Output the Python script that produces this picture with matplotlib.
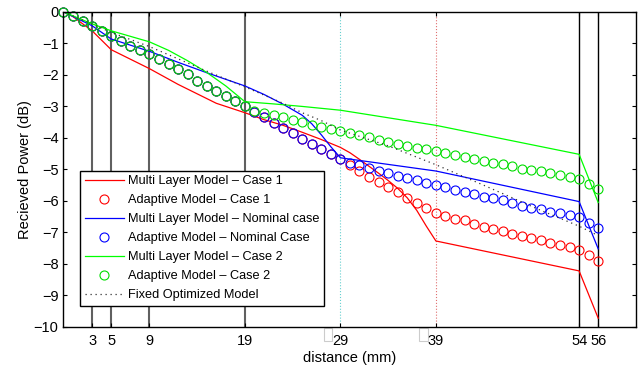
import numpy as np
import matplotlib
matplotlib.use('Agg')
from matplotlib import pyplot as plt
from matplotlib.patches import Rectangle
import matplotlib.transforms as mtransforms

plt.rcParams['font.family'] = ['Liberation Sans', 'DejaVu Sans']

# layer boundaries / tick labels (mm)
layer_ticks = [3, 5, 9, 19, 29, 39, 54, 56]

# adaptive model samples, one per mm
x_adapt = np.arange(0, 57)
common = [0, -0.13, -0.28, -0.44, -0.6, -0.78, -0.93, -1.08, -1.21, -1.35,
          -1.5, -1.66, -1.82, -1.98, -2.18, -2.36, -2.5, -2.66, -2.83, -2.98]
adapt_case2_tail = [-3.14, -3.2, -3.26, -3.32, -3.42, -3.5, -3.6, -3.66, -3.72, -3.79,
                    -3.85, -3.92, -3.98, -4.05, -4.12, -4.18, -4.25, -4.31, -4.36, -4.43,
                    -4.48, -4.53, -4.6, -4.68, -4.74, -4.79, -4.83, -4.89, -4.97, -5.02,
                    -5.06, -5.11, -5.17, -5.24, -5.31, -5.46, -5.63]
adapt_nom_tail = [-3.18, -3.35, -3.53, -3.68, -3.84, -4.02, -4.19, -4.36, -4.5, -4.67,
                  -4.8, -4.87, -4.95, -5.04, -5.12, -5.2, -5.27, -5.35, -5.43, -5.49,
                  -5.57, -5.65, -5.71, -5.79, -5.86, -5.92, -5.98, -6.06, -6.16, -6.21,
                  -6.26, -6.34, -6.39, -6.45, -6.51, -6.7, -6.86]
adapt_case1_tail = [-3.18, -3.35, -3.53, -3.68, -3.84, -4.02, -4.19, -4.36, -4.5, -4.67,
                    -4.86, -5.04, -5.23, -5.39, -5.56, -5.72, -5.9, -6.05, -6.23, -6.37,
                    -6.49, -6.57, -6.62, -6.73, -6.83, -6.88, -6.96, -7.04, -7.1, -7.17,
                    -7.25, -7.33, -7.39, -7.46, -7.55, -7.71, -7.89]
adapt_case1 = common + adapt_case1_tail
adapt_nom = common + adapt_nom_tail
adapt_case2 = common + adapt_case2_tail

# multi layer model curves
ml1_x = [0, 1, 3, 5, 7, 9, 12, 14, 16, 19, 21, 23, 25, 27, 29, 30, 31, 32, 33, 34,
         35, 36, 37, 38, 39, 54, 56]
ml1_y = [0, -0.15, -0.6, -1.2, -1.5, -1.8, -2.3, -2.6, -2.9, -3.2, -3.42, -3.6, -3.82,
         -4.05, -4.3, -4.47, -4.68, -4.9, -5.12, -5.35, -5.6, -5.9, -6.3, -6.8, -7.27,
         -8.22, -9.72]
mln_x = [0, 3, 5, 9, 12, 15, 19, 21, 23, 25, 26, 27, 28, 29, 39, 54, 56]
mln_y = [0, -0.44, -0.86, -1.25, -1.6, -1.93, -2.35, -2.62, -2.93, -3.28, -3.55,
         -3.9, -4.28, -4.63, -5.05, -6.02, -7.52]
ml2_x = [0, 3, 5, 9, 11, 13, 15, 17, 18, 19, 22, 25, 29, 39, 54, 56]
ml2_y = [0, -0.38, -0.6, -0.95, -1.22, -1.55, -1.92, -2.35, -2.6, -2.85, -2.92,
         -3.0, -3.12, -3.6, -4.52, -6.05]

# fixed optimized model
fix_x = [0, 5, 9, 15, 19, 23, 25, 27, 29, 34, 39, 44, 50, 54, 56]
fix_y = [0, -0.65, -1.1, -1.88, -2.38, -2.9, -3.2, -3.45, -3.75, -4.25, -4.85,
         -5.5, -6.3, -6.8, -7.1]

fig = plt.figure(figsize=(6.38, 3.72), dpi=100)
ax = fig.add_axes([0.0995, 0.121, 0.898, 0.847])

# layer boundary lines
for t in [3, 5, 9, 19]:
    ax.axvline(t, color='#606060', lw=1.5, zorder=1)
for t in [54, 56]:
    ax.axvline(t, color='black', lw=1.0, zorder=1)
ax.axvline(29, color='#66d0d0', lw=0.8, ls=':', zorder=1)
ax.axvline(39, color='#e07070', lw=0.8, ls=':', zorder=1)

ms = 6.5
mw = 0.8
ax.plot(ml1_x, ml1_y, color='#ff0000', lw=0.9, label='Multi Layer Model \u2013 Case 1')
ax.plot(x_adapt, adapt_case1, 'o', mfc='none', mec='#ff0000', ms=ms, mew=mw,
        clip_on=False, label='Adaptive Model \u2013 Case 1')
ax.plot(mln_x, mln_y, color='#0000ff', lw=0.9, label='Multi Layer Model \u2013 Nominal case')
ax.plot(x_adapt, adapt_nom, 'o', mfc='none', mec='#0000ff', ms=ms, mew=mw,
        clip_on=False, label='Adaptive Model \u2013 Nominal Case')
ax.plot(ml2_x, ml2_y, color='#00ff00', lw=0.9, label='Multi Layer Model \u2013 Case 2')
ax.plot(x_adapt, adapt_case2, 'o', mfc='none', mec='#00dd00', ms=ms, mew=mw,
        clip_on=False, label='Adaptive Model \u2013 Case 2')
ax.plot(fix_x, fix_y, color='#333333', lw=0.9, ls=(0, (1, 3)), label='Fixed Optimized Model')

ax.set_xlim(0, 60)
ax.set_ylim(-10, 0)
ax.set_xticks(layer_ticks)
ax.set_yticks(np.arange(-10, 1, 1))
ax.tick_params(direction='in', length=3, top=True, right=True, labelsize=10.5, width=0.8)
ax.tick_params(axis='x', pad=5)
for s in ax.spines.values():
    s.set_linewidth(1.0)

# small gray boxes beside the 29 and 39 labels
trans = mtransforms.blended_transform_factory(ax.transData, ax.transAxes)
for t in [29, 39]:
    ax.add_patch(Rectangle((t - 1.75, -0.044), 0.9, 0.04, transform=trans, fill=False,
                           ec='#cccccc', lw=0.8, clip_on=False))

ax.set_xlabel('distance (mm)', fontsize=10.5, labelpad=2)
ax.set_ylabel('Recieved Power (dB)', fontsize=10.5, labelpad=1)

leg = ax.legend(loc='lower left', bbox_to_anchor=(0.029, 0.067), borderaxespad=0,
                fontsize=9.2, numpoints=1, handlelength=3.1, handletextpad=0.3,
                labelspacing=0.55, borderpad=0.35, fancybox=False, framealpha=1)
leg.get_frame().set_edgecolor('black')
leg.get_frame().set_linewidth(1.0)

fig.savefig('out.png', dpi=100)
